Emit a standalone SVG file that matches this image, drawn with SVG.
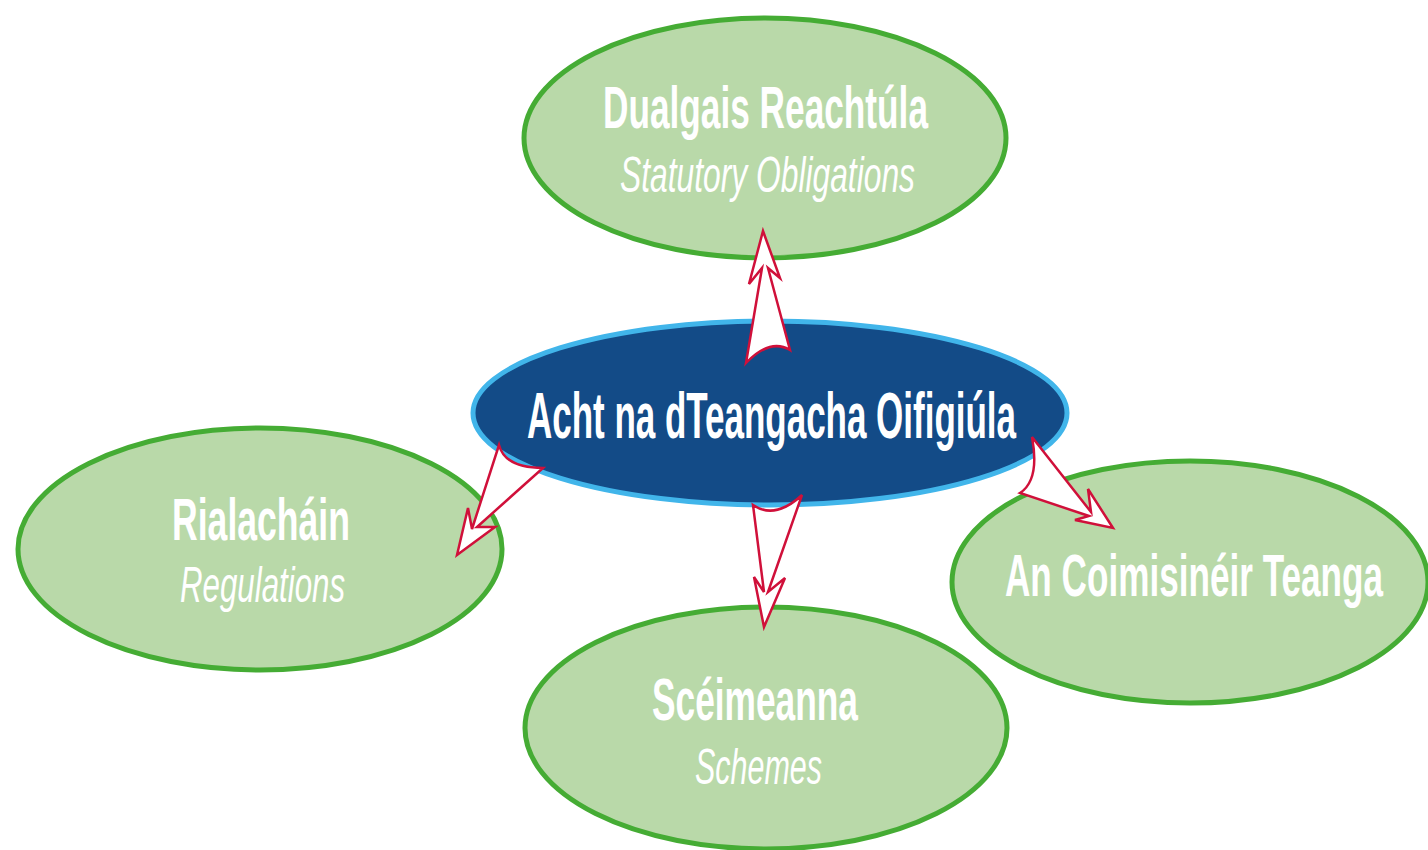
<svg xmlns="http://www.w3.org/2000/svg" width="1428" height="850" viewBox="0 0 1428 850">
<style>
.g{fill:#b9d9a9;stroke:#45ac34;stroke-width:5}
.c{fill:#134b87;stroke:#41b5ea;stroke-width:5}
.t{font-family:"Liberation Sans",Arial,sans-serif;font-weight:bold;fill:#ffffff;text-anchor:start}
.i{font-family:"Liberation Sans",Arial,sans-serif;font-style:italic;fill:#ffffff;text-anchor:start}
.a{fill:#ffffff;stroke:#d0103a;stroke-width:2.5;stroke-linejoin:miter}
</style>
<rect width="1428" height="850" fill="#ffffff"/>
<g id="node-top">
<ellipse class="g" cx="765" cy="138" rx="241" ry="120"/>
<text class="t" x="603" y="128" font-size="60" textLength="325" lengthAdjust="spacingAndGlyphs">Dualgais Reachtúla</text>
<text class="i" x="620" y="192" font-size="50" textLength="295" lengthAdjust="spacingAndGlyphs">Statutory Obligations</text>
</g>
<g id="node-left">
<ellipse class="g" cx="260" cy="549" rx="242" ry="121"/>
<text class="t" x="172" y="540" font-size="60" textLength="178" lengthAdjust="spacingAndGlyphs">Rialacháin</text>
<text class="i" x="180" y="602" font-size="50" textLength="165" lengthAdjust="spacingAndGlyphs">Regulations</text>
</g>
<g id="node-bottom">
<ellipse class="g" cx="766" cy="728" rx="241" ry="121"/>
<text class="t" x="652" y="720" font-size="60" textLength="206" lengthAdjust="spacingAndGlyphs">Scéimeanna</text>
<text class="i" x="695" y="784" font-size="50" textLength="127" lengthAdjust="spacingAndGlyphs">Schemes</text>
</g>
<g id="node-right">
<ellipse class="g" cx="1190" cy="582" rx="238" ry="121"/>
<text class="t" x="1005" y="596" font-size="60" textLength="378" lengthAdjust="spacingAndGlyphs">An Coimisinéir Teanga</text>
</g>
<g id="node-center">
<ellipse class="c" cx="770" cy="413" rx="297" ry="92"/>
<text class="t" x="527" y="438" font-size="64" textLength="489" lengthAdjust="spacingAndGlyphs">Acht na dTeangacha Oifigiúla</text>
</g>
<g id="connectors">
<path class="a" d="M763,231 L780,278 L768,268 L790,350 Q770,338 746,363 L762,268 L749,284 Z"/>
<path class="a" d="M457,555 L468,508 L472,529 L499,445 Q505,468 543,468 L477,527 L495,527 Z"/>
<path class="a" d="M753,505 Q775,520 802,495 L768,592 L785,578 L764,627 L754,577 L764,592 Z"/>
<path class="a" d="M1032,437 L1091,512 L1088,489 L1113,528 L1075,520 L1089,516 L1020,493 Q1040,480 1032,437 Z"/>
</g>
</svg>
